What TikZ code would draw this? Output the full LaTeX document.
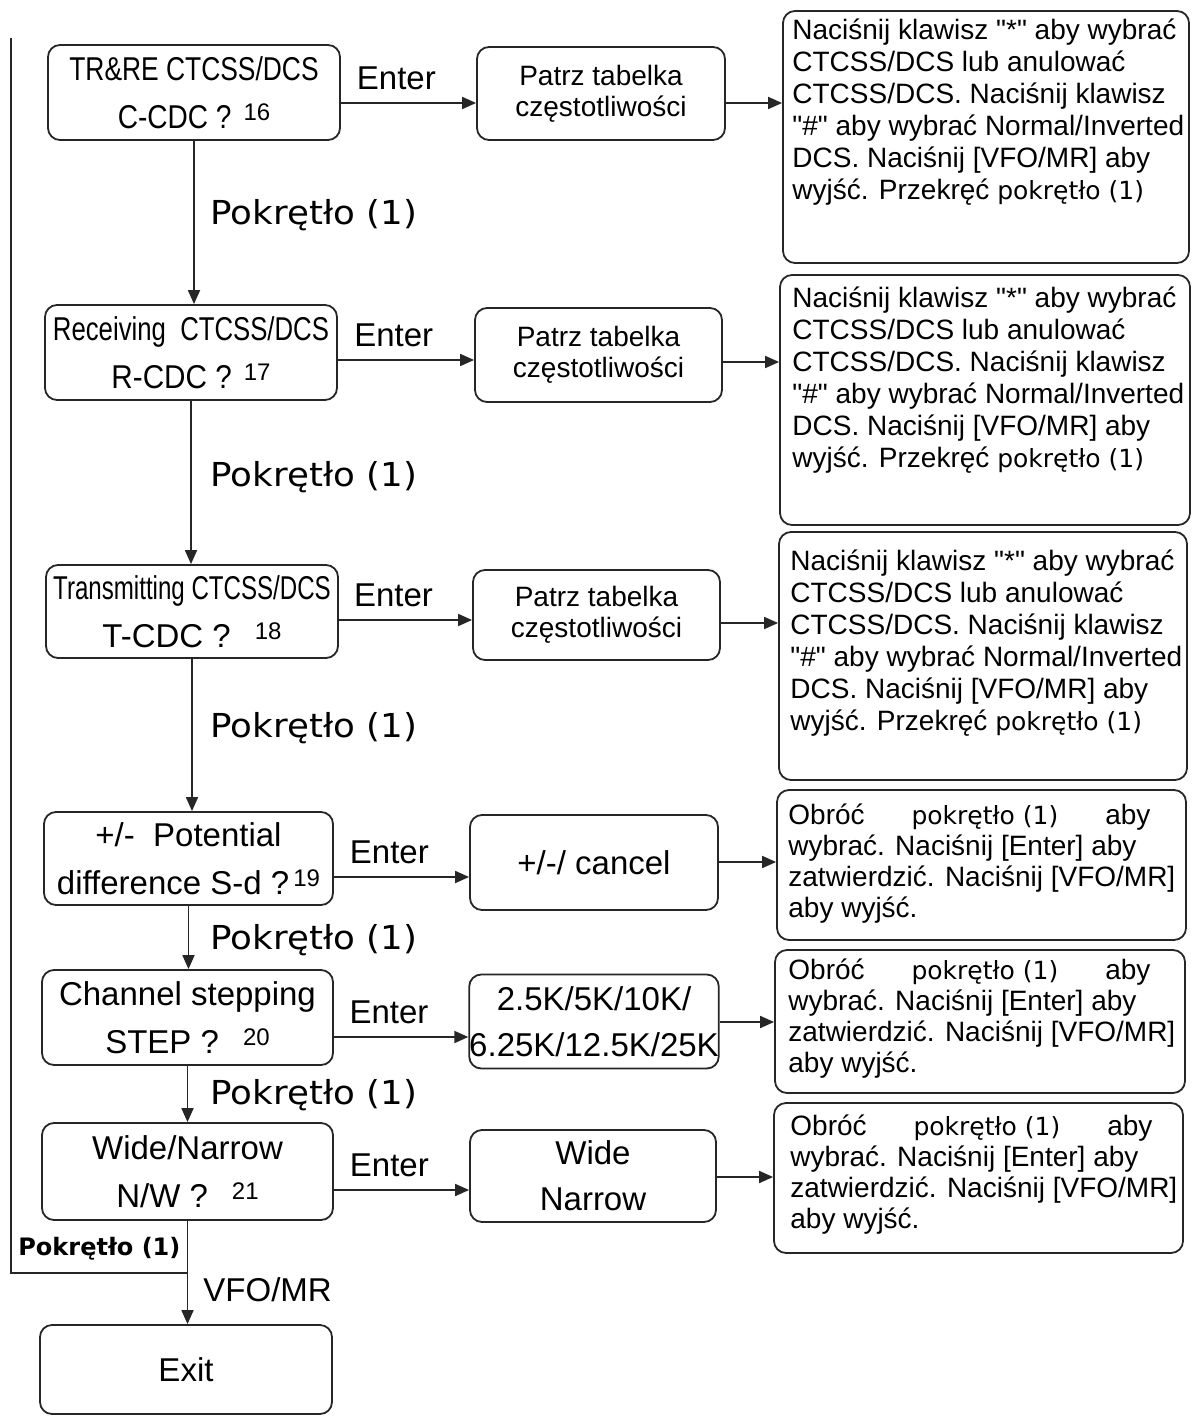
\documentclass[tikz,border=0pt]{standalone}
\usepackage{fontspec}
\usepackage{graphicx}
\setmainfont{Liberation Sans}
\newfontfamily\dvfont{DejaVu Sans}
\usetikzlibrary{arrows.meta}
\newcommand\pokr{\scalebox{1.08}[1]{\dvfont\fontsize{16.5}{19}\selectfont Pokrętło (1)}}
\newcommand\pkin{\mbox{\dvfont\fontsize{12.5}{16}\selectfont pokrętło (1)}}
\newcommand\supn[1]{\raisebox{4pt}{\fontsize{12}{12}\selectfont #1}}
\newcommand\qd{\textquotedbl}
\begin{document}
\begin{tikzpicture}[x=0.5pt,y=-0.5pt]
\tikzset{
 box/.style={draw=black!85, line width=0.9pt, rounded corners=6pt, inner sep=0pt, align=center},
 lbox/.style={box, font=\fontsize{16.5}{24}\selectfont},
 mbox/.style={box, font=\fontsize{14}{15.5}\selectfont},
 mbig/.style={box, font=\fontsize{16.5}{23}\selectfont},
 rbox/.style={draw=black!85, line width=0.9pt, rounded corners=6pt, inner sep=0pt},
 rtext/.style={inner sep=0pt, align=left, anchor=north west, font=\fontsize{14}{16}\selectfont},
 rtextb/.style={rtext, font=\fontsize{14}{15.5}\selectfont},
 arr/.style={draw=black!85, line width=0.9pt, -{Triangle[length=7pt,width=6pt]}},
 conn/.style={draw=black!85, line width=0.9pt},
 elab/.style={font=\fontsize{16.5}{18}\selectfont, inner sep=0pt, pos=0.41, yshift=12.5pt},
 plab/.style={inner sep=0pt, anchor=west},
}
\useasboundingbox (0,0) rectangle (1194,1416);

% left column
\node[lbox, minimum width=146pt, minimum height=47.5pt] (b1) at (194,92.5)
  {\scalebox{0.8}[1]{TR\&RE CTCSS/DCS}\\\scalebox{0.85}[1]{C-CDC ?}\hspace{6pt}\supn{16}};
\node[lbox, minimum width=146pt, minimum height=47.5pt] (b2) at (191,352.5)
  {\scalebox{0.78}[1]{Receiving\ \ CTCSS/DCS}\\\scalebox{0.9}[1]{R-CDC ?}\hspace{6pt}\supn{17}};
\node[lbox, minimum width=146pt, minimum height=46.5pt] (b3) at (192,611.5)
  {\scalebox{0.73}[1]{Transmitting CTCSS/DCS}\\T-CDC ?\hspace{12pt}\supn{18}};
\node[lbox, minimum width=144.5pt, minimum height=46.5pt] (b4) at (188.5,858.5)
  {+/-\ \ Potential\\difference S-d ?\hspace{2pt}\supn{19}};
\node[lbox, minimum width=145.5pt, minimum height=47.5pt] (b5) at (187.5,1017.5)
  {Channel stepping\\STEP ?\hspace{12pt}\supn{20}};
\node[lbox, minimum width=145.5pt, minimum height=48.5pt] (b6) at (187.5,1171.5)
  {Wide/Narrow\\N/W ?\hspace{12pt}\supn{21}};
\node[lbox, minimum width=146pt, minimum height=44.5pt] (ex) at (186,1369.5) {Exit};

% middle column
\node[mbox, minimum width=124pt, minimum height=46.5pt] (m1) at (601,93.5) {Patrz tabelka\\częstotliwości};
\node[mbox, minimum width=123.5pt, minimum height=47pt] (m2) at (598.5,355) {Patrz tabelka\\częstotliwości};
\node[mbox, minimum width=123.5pt, minimum height=45pt] (m3) at (596.5,615) {Patrz tabelka\\częstotliwości};
\node[mbig, minimum width=124pt, minimum height=47.5pt] (m4) at (594,862.5) {+/-/ cancel};
\node[mbig, minimum width=124pt, minimum height=47pt] (m5) at (594,1021.5) {2.5K/5K/10K/\\6.25K/12.5K/25K};
\node[mbig, minimum width=123pt, minimum height=46pt] (m6) at (593,1176) {Wide\\Narrow};

% right column boxes
\node[rbox, minimum width=203pt, minimum height=126pt] (r1) at (986,137) {};
\node[rbox, minimum width=205pt, minimum height=125pt] (r2) at (985,400) {};
\node[rbox, minimum width=204pt, minimum height=124pt] (r3) at (983,656) {};
\node[rbox, minimum width=204.5pt, minimum height=75pt] (r4) at (981.5,865) {};
\node[rbox, minimum width=205pt, minimum height=71.5pt] (r5) at (980,1021.5) {};
\node[rbox, minimum width=204.5pt, minimum height=75pt] (r6) at (978.5,1178) {};

% right texts
\node[rtext] (t1) at (792,18) {Naciśnij klawisz \qd*\qd{} aby wybrać\\CTCSS/DCS lub anulować\\CTCSS/DCS. Naciśnij klawisz\\\qd\#\qd{} aby wybrać Normal/Inverted\\DCS. Naciśnij [VFO/MR] aby\\wyjść. Przekręć \pkin};
\node[rtext] (t2) at (792,286) {Naciśnij klawisz \qd*\qd{} aby wybrać\\CTCSS/DCS lub anulować\\CTCSS/DCS. Naciśnij klawisz\\\qd\#\qd{} aby wybrać Normal/Inverted\\DCS. Naciśnij [VFO/MR] aby\\wyjść. Przekręć \pkin};
\node[rtext] (t3) at (790,549) {Naciśnij klawisz \qd*\qd{} aby wybrać\\CTCSS/DCS lub anulować\\CTCSS/DCS. Naciśnij klawisz\\\qd\#\qd{} aby wybrać Normal/Inverted\\DCS. Naciśnij [VFO/MR] aby\\wyjść. Przekręć \pkin};
\node[rtextb] (t4) at (788,803) {\makebox[181pt][s]{Obróć \pkin{} aby}\\wybrać. Naciśnij [Enter] aby\\zatwierdzić. Naciśnij [VFO/MR]\\aby wyjść.};
\node[rtextb] (t5) at (788,958) {\makebox[181pt][s]{Obróć \pkin{} aby}\\wybrać. Naciśnij [Enter] aby\\zatwierdzić. Naciśnij [VFO/MR]\\aby wyjść.};
\node[rtextb] (t6) at (790,1114) {\makebox[181pt][s]{Obróć \pkin{} aby}\\wybrać. Naciśnij [Enter] aby\\zatwierdzić. Naciśnij [VFO/MR]\\aby wyjść.};

% Enter arrows
\draw[arr] (b1.east |- 0,103) -- node[elab] (e1) {Enter} (m1.west |- 0,103);
\draw[arr] (b2.east |- 0,360) -- node[elab] (e2) {Enter} (m2.west |- 0,360);
\draw[arr] (b3.east |- 0,620) -- node[elab] (e3) {Enter} (m3.west |- 0,620);
\draw[arr] (b4.east |- 0,877) -- node[elab] (e4) {Enter} (m4.west |- 0,877);
\draw[arr] (b5.east |- 0,1037) -- node[elab] (e5) {Enter} (m5.west |- 0,1037);
\draw[arr] (b6.east |- 0,1190) -- node[elab] (e6) {Enter} (m6.west |- 0,1190);

% middle to right arrows
\draw[arr] (m1.east |- 0,103) -- (r1.west |- 0,103);
\draw[arr] (m2.east |- 0,362) -- (r2.west |- 0,362);
\draw[arr] (m3.east |- 0,623) -- (r3.west |- 0,623);
\draw[arr] (m4.east |- 0,862) -- (r4.west |- 0,862);
\draw[arr] (m5.east |- 0,1022) -- (r5.west |- 0,1022);
\draw[arr] (m6.east |- 0,1177) -- (r6.west |- 0,1177);

% vertical arrows
\draw[arr] (b1.south) -- (b1.south |- b2.north);
\draw[arr] (b2.south) -- (b2.south |- b3.north);
\draw[arr] (b3.south) -- (b3.south |- b4.north);
\draw[arr] (b4.south) -- (b4.south |- b5.north);
\draw[arr] (b5.south) -- (b5.south |- b6.north);
\draw[arr] (b6.south) -- (b6.south |- ex.north);

% Pokretlo labels
\node[plab] (p1) at (210,215) {\pokr};
\node[plab] (p2) at (210,477) {\pokr};
\node[plab] (p3) at (210,728) {\pokr};
\node[plab] (p4) at (210,940) {\pokr};
\node[plab] (p5) at (210,1095) {\pokr};
\node[plab, font=\dvfont\bfseries\fontsize{12}{14}\selectfont] (p6) at (18,1249) {Pokrętło (1)};
\node[plab, font=\fontsize{16.5}{18}\selectfont] (vfo) at (203,1290) {VFO/MR};

% loop line back to top
\coordinate (lj) at (b6.south |- 0,1273);
\coordinate (ltop) at (11,38);
\draw[conn] (lj) -- (11,1273) -- (ltop);
\end{tikzpicture}
\end{document}
